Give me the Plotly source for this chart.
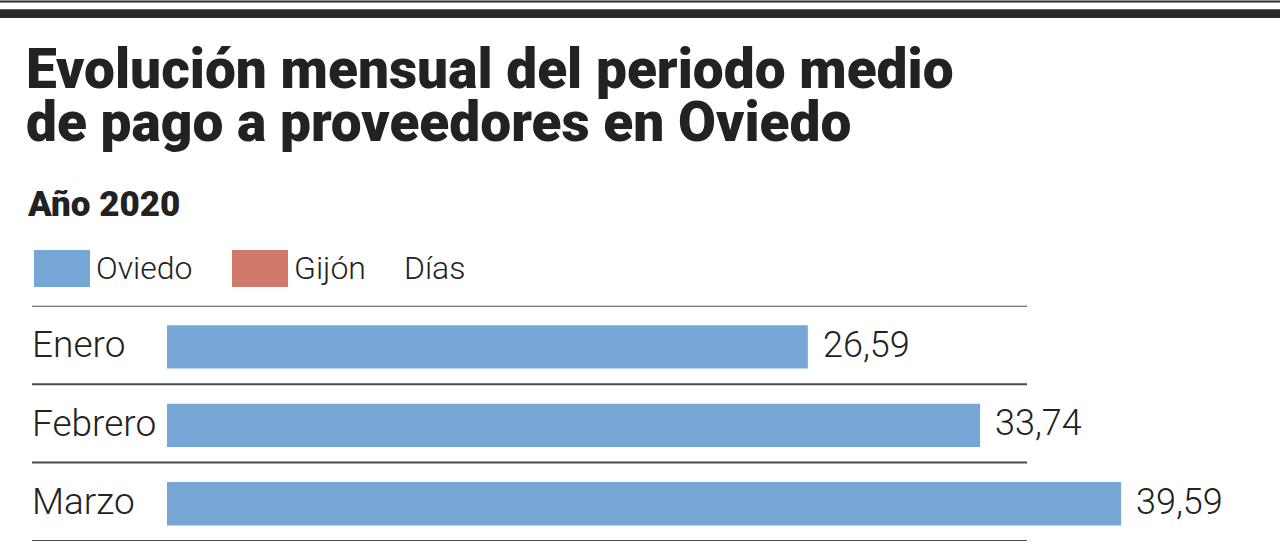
import plotly.graph_objects as go

# ---- data ----
months = ["Enero", "Febrero", "Marzo"]
oviedo_days = [26.59, 33.74, 39.59]
legend_labels = ["Oviedo", "Gijón", "Días"]
title_lines = ["Evolución mensual del periodo medio", "de pago a proveedores en Oviedo"]
subtitle = "Año 2020"

W, H = 1280, 548
BLUE = "#76a7d7"
RED = "#d0796a"
TXT = "#222222"
FONT = "Roboto"
BAR_W = 0.552

def px(x):
    return x / W

def py(y):
    return 1 - y / H

fig = go.Figure()
fig.add_trace(go.Bar(
    x=oviedo_days, y=months, orientation="h",
    marker=dict(color=BLUE, line=dict(width=0)),
    width=BAR_W, offset=-BAR_W / 2 + 0.025,
    name="Oviedo", showlegend=False, hoverinfo="x+y",
))

shapes = []
annotations = []

# top rules
shapes.append(dict(type="rect", xref="paper", yref="paper", x0=0, x1=1,
                   y0=py(2.5), y1=py(0.5), fillcolor="#2a2a2a", line=dict(width=0)))
shapes.append(dict(type="rect", xref="paper", yref="paper", x0=0, x1=1,
                   y0=py(18), y1=py(9.3), fillcolor="#2a2a2a", line=dict(width=0)))

# row separators
for k in range(len(months) + 1):
    shapes.append(dict(type="line", xref="paper", yref="y", x0=px(32), x1=px(1027),
                       y0=k - 0.5, y1=k - 0.5, line=dict(color="#4a4a4a", width=2)))

# titles
for line, yc in zip(title_lines, [69.5, 122]):
    annotations.append(dict(text=line, xref="paper", yref="paper", x=px(25), y=py(yc),
                            xanchor="left", yanchor="middle", showarrow=False, borderpad=0,
                            font=dict(family=FONT, size=55, color=TXT, weight=900)))
annotations.append(dict(text=subtitle, xref="paper", yref="paper", x=px(25), y=py(204),
                        xanchor="left", yanchor="middle", showarrow=False,
                        font=dict(family=FONT, size=35, color=TXT, weight=900)))

# legend
for color, x0 in [(BLUE, 34), (RED, 232)]:
    shapes.append(dict(type="rect", xref="paper", yref="paper", x0=px(x0), x1=px(x0 + 56),
                       y0=py(287), y1=py(250), fillcolor=color, line=dict(width=0)))
for lab, x0 in zip(legend_labels, [94, 292, 402]):
    annotations.append(dict(text=lab, xref="paper", yref="paper", x=px(x0), y=py(268),
                            xanchor="left", yanchor="middle", showarrow=False,
                            font=dict(family=FONT, size=32, color=TXT, weight=300)))

# category labels and value labels
for m, v in zip(months, oviedo_days):
    annotations.append(dict(text=m, xref="paper", yref="y", x=px(30), y=m,
                            xanchor="left", yanchor="middle", showarrow=False,
                            font=dict(family=FONT, size=37, color=TXT, weight=300)))
    annotations.append(dict(text=f"{v:.2f}".replace(".", ","), xref="x", yref="y", x=v, y=m,
                            xanchor="left", yanchor="middle", xshift=13, showarrow=False,
                            font=dict(family=FONT, size=36, color=TXT, weight=300)))

fig.update_layout(
    width=W, height=H,
    margin=dict(l=0, r=0, t=0, b=0),
    paper_bgcolor="white", plot_bgcolor="white",
    xaxis=dict(domain=[px(167), 1], range=[0, (W - 167) / 24.1], visible=False, fixedrange=True),
    yaxis=dict(domain=[py(541), py(305.7)], range=[2.5, -0.5], visible=False,
               categoryorder="array", categoryarray=months, fixedrange=True),
    shapes=shapes, annotations=annotations,
    showlegend=False, separators=",.",
)

fig.write_html("out.html", config={"displayModeBar": False},
               post_script="document.body.style.margin='0';document.body.style.overflow='hidden';")
